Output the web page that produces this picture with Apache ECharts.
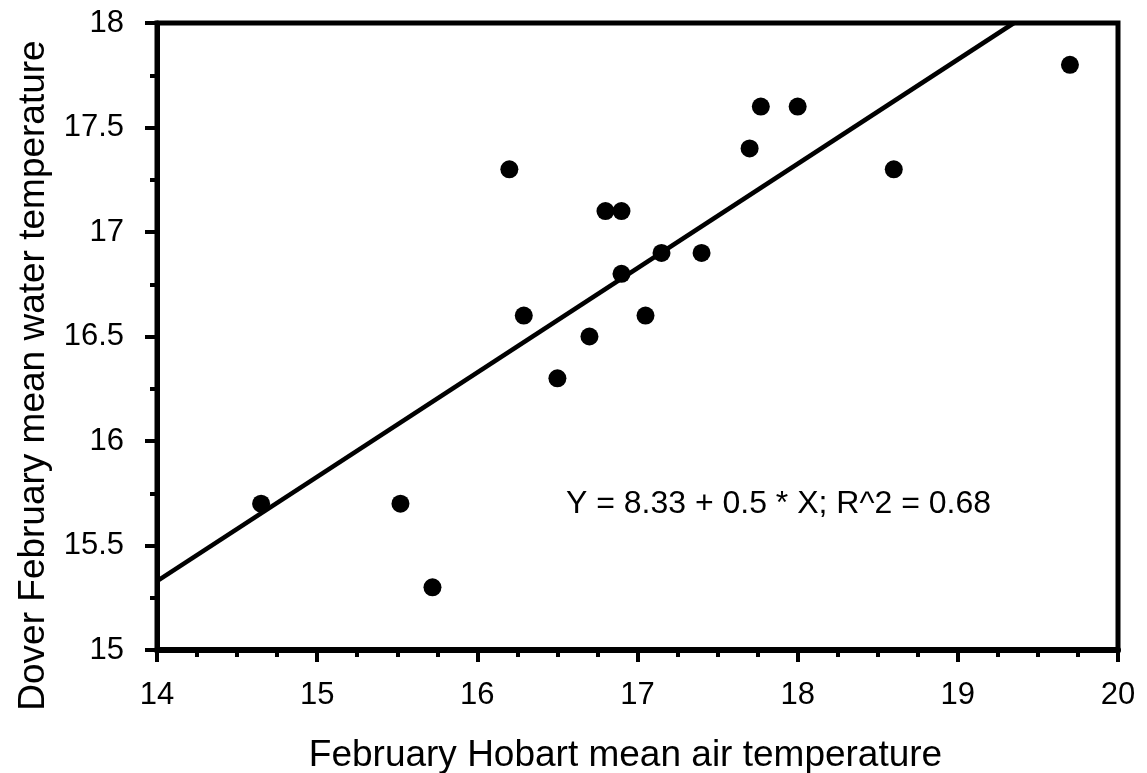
<!DOCTYPE html>
<html>
<head>
<meta charset="utf-8">
<title>Dover vs Hobart February temperature</title>
<script src="https://cdn.jsdelivr.net/npm/echarts@6/dist/echarts.min.js"></script>
<style>
  html, body { margin: 0; padding: 0; background: #fff; }
  #main { width: 1147px; height: 773px; }
</style>
</head>
<body>
<div id="main"></div>
<script>
// February Hobart mean air temperature (x) vs Dover water temperature (y)
var airTemp = [14.65, 15.52, 15.72, 16.2, 16.29, 16.5, 16.7, 16.8, 16.9, 16.9, 17.05, 17.15, 17.4, 17.7, 17.77, 18.0, 18.6, 19.7];
var waterTemp = [15.7, 15.7, 15.3, 17.3, 16.6, 16.3, 16.5, 17.1, 17.1, 16.8, 16.6, 16.9, 16.9, 17.4, 17.6, 17.6, 17.3, 17.8];

// fitted line end points (Y = 8.33 + 0.5 * X, cut at the frame)
var fitLine = [[14, 15.33], [19.35, 18]];
var fitText = 'Y = 8.33 + 0.5 * X; R^2 = 0.68';
var fitTextAt = [17.88, 15.7];

var xTicks = [14, 20, 1];
var yTicks = [15, 18, 0.5];

var font = "'Liberation Sans', Arial, sans-serif";

var points = [];
for (var i = 0; i < airTemp.length; i++) {
  points.push([airTemp[i], waterTemp[i]]);
}

var chart = echarts.init(document.getElementById('main'), null, { renderer: 'canvas' });

var option = {
  backgroundColor: '#fff',
  animation: false,
  grid: {
    left: 157,
    right: 29,
    top: 23,
    bottom: 123,
    containLabel: false,
    outerBoundsMode: 'none',
    show: true,
    borderColor: '#000',
    borderWidth: 5
  },
  xAxis: {
    type: 'value',
    min: xTicks[0],
    max: xTicks[1],
    interval: xTicks[2],
    name: 'February Hobart mean air temperature',
    nameLocation: 'middle',
    nameGap: 87,
    nameTextStyle: { color: '#000', fontSize: 37, fontFamily: font, padding: [0, 24, 0, 0] },
    axisLine: { show: true, onZero: false, lineStyle: { color: '#000', width: 6 } },
    axisTick: { show: true, length: 12, lineStyle: { color: '#000', width: 4 } },
    minorTick: { show: true, splitNumber: 4, length: 7, lineStyle: { color: '#000', width: 4 } },
    axisLabel: { color: '#000', fontSize: 31, fontFamily: font, margin: 30 },
    splitLine: { show: false }
  },
  yAxis: {
    type: 'value',
    min: yTicks[0],
    max: yTicks[1],
    interval: yTicks[2],
    name: 'Dover February mean water temperature',
    nameLocation: 'middle',
    nameGap: 104,
    nameTextStyle: { color: '#000', fontSize: 37, fontFamily: font, padding: [0, 78, 0, 0] },
    axisLine: { show: true, onZero: false, lineStyle: { color: '#000', width: 5 } },
    axisTick: { show: true, length: 12, lineStyle: { color: '#000', width: 4 } },
    minorTick: { show: true, splitNumber: 2, length: 7, lineStyle: { color: '#000', width: 4 } },
    axisLabel: { color: '#000', fontSize: 31, fontFamily: font, margin: 33 },
    splitLine: { show: false }
  },
  series: [
    {
      type: 'line',
      data: fitLine,
      symbol: 'none',
      lineStyle: { color: '#000', width: 4.5 },
      z: 2
    },
    {
      type: 'scatter',
      data: points,
      symbol: 'circle',
      symbolSize: 18,
      itemStyle: { color: '#000', opacity: 1 },
      z: 3
    }
  ]
};

chart.setOption(option);

// annotation placed through the axes' own scale
var pos = chart.convertToPixel({ gridIndex: 0 }, fitTextAt);
chart.setOption({
  graphic: [{
    type: 'text',
    x: pos[0],
    y: pos[1],
    style: {
      text: fitText,
      fill: '#000',
      font: '32px ' + font,
      align: 'center',
      verticalAlign: 'middle'
    }
  }]
});
</script>
</body>
</html>
